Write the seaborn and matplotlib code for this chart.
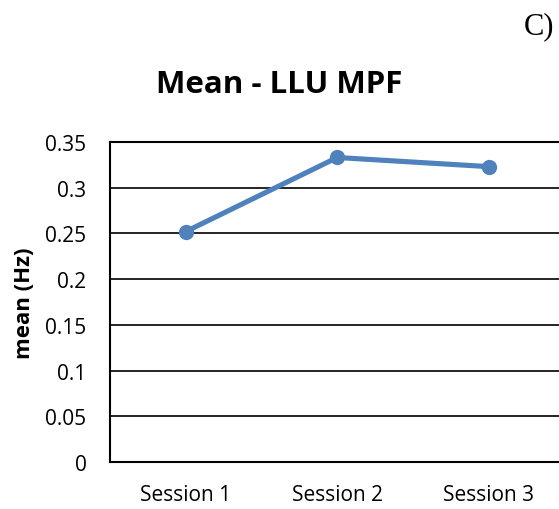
import matplotlib
matplotlib.use("Agg")
import matplotlib.pyplot as plt
import seaborn as sns
import pandas as pd

sessions = ["Session 1", "Session 2", "Session 3"]
mean_hz = [0.252, 0.333, 0.323]
y_ticks = [0, 0.05, 0.1, 0.15, 0.2, 0.25, 0.3, 0.35]
y_tick_labels = ["0", "0.05", "0.1", "0.15", "0.2", "0.25", "0.3", "0.35"]

sns.set_theme(style="white")
plt.rcParams["font.family"] = ["Open Sans", "DejaVu Sans"]
plt.rcParams["text.color"] = "black"

df = pd.DataFrame({"session": sessions, "mean": mean_hz})

fig = plt.figure(figsize=(5.59, 5.10), dpi=100)
ax = fig.add_axes([0.1968, 0.0922, 0.813, 0.6275])

sns.lineplot(data=df, x="session", y="mean", ax=ax, color="#4F81BD",
             linewidth=3.7, marker="o", markersize=11, markeredgewidth=0)

ax.set_xlim(-0.5, 2.5)
ax.set_ylim(0, 0.35)
ax.set_yticks(y_ticks)
ax.set_yticklabels(y_tick_labels)
ax.yaxis.grid(True, color="black", linewidth=1.2)
ax.set_axisbelow(True)
ax.tick_params(axis="both", length=0, labelsize=15, colors="black")
ax.tick_params(axis="y", pad=17)
ax.tick_params(axis="x", pad=16)
for side in ["left", "bottom", "top", "right"]:
    ax.spines[side].set_color("black")
    ax.spines[side].set_linewidth(1.5)

ax.set_xlabel("")
ax.set_ylabel("mean (Hz)", fontsize=16, fontweight="bold", labelpad=7,
              color="black")

fig.text(0.5, 0.8176, "Mean - LLU MPF", ha="center", va="baseline",
         fontsize=22.5, fontweight="bold", color="black")
fig.text(0.964, 0.933, "C)", ha="center", va="baseline",
         fontsize=22, family="Liberation Serif", color="black")

fig.savefig("out.png", dpi=100, facecolor="white")
